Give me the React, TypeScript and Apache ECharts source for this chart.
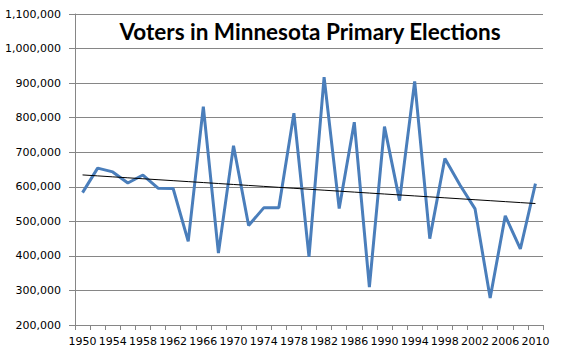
import React, { useEffect, useRef } from "react";
import * as echarts from "echarts";

const years: string[] = [
  "1950", "1952", "1954", "1956", "1958", "1960", "1962", "1964", "1966", "1968",
  "1970", "1972", "1974", "1976", "1978", "1980", "1982", "1984", "1986", "1988",
  "1990", "1992", "1994", "1996", "1998", "2000", "2002", "2004", "2006", "2008", "2010",
];

const voters: number[] = [
  583000, 654000, 643000, 611000, 634000, 596000, 595000, 442000, 832000, 408000,
  719000, 488000, 539000, 539000, 813000, 397000, 917000, 537000, 787000, 310000,
  774000, 560000, 905000, 450000, 682000, 605000, 536000, 278000, 516000, 420000, 609000,
];

const titleText = "Voters in Minnesota Primary Elections";

// Linear trendline (least squares) derived from the data
function trend(values: number[]): number[] {
  const n = values.length;
  let sx = 0, sy = 0, sxx = 0, sxy = 0;
  values.forEach((v, i) => {
    sx += i; sy += v; sxx += i * i; sxy += i * v;
  });
  const slope = (n * sxy - sx * sy) / (n * sxx - sx * sx);
  const intercept = (sy - slope * sx) / n;
  return values.map((_, i) => intercept + slope * i);
}

export default function App() {
  const ref = useRef<HTMLDivElement>(null);
  useEffect(() => {
    document.body.style.margin = "0";
    if (!ref.current) return;
    const chart = echarts.init(ref.current, undefined, { renderer: "svg" });
    const labelFont = { fontFamily: "DejaVu Sans", fontSize: 11, color: "#000" };
    chart.setOption({
      animation: false,
      backgroundColor: "#fff",
      title: {
        text: titleText,
        left: 305,
        top: 15,
        textAlign: "center",
        textStyle: { fontFamily: "Lato", fontWeight: "bold", fontSize: 22.5, color: "#000" },
      },
      grid: { left: 75, right: 19, top: 14, bottom: 34, containLabel: false },
      xAxis: {
        type: "category",
        data: years,
        boundaryGap: true,
        axisLine: { show: true, lineStyle: { color: "#868686", width: 1 } },
        axisTick: { show: true, interval: 0, length: 5, lineStyle: { color: "#868686" } },
        axisLabel: { ...labelFont, interval: 1, margin: 11 },
        splitLine: { show: false },
      },
      yAxis: {
        type: "value",
        min: 200000,
        max: 1100000,
        interval: 100000,
        axisLine: { show: true, lineStyle: { color: "#868686", width: 1 } },
        axisTick: { show: true, length: 6, lineStyle: { color: "#868686" } },
        axisLabel: {
          ...labelFont,
          margin: 14,
          formatter: (v: number) => v.toLocaleString("en-US"),
        },
        splitLine: { show: true, lineStyle: { color: "#868686", width: 1 } },
      },
      series: [
        {
          name: "Voters",
          type: "line",
          data: voters,
          symbol: "none",
          lineStyle: { color: "#4A7EBB", width: 3 },
          z: 2,
        },
        {
          name: "Trend",
          type: "line",
          data: trend(voters),
          symbol: "none",
          lineStyle: { color: "#000", width: 1 },
          z: 3,
        },
      ],
    });
    return () => chart.dispose();
  }, []);
  return <div ref={ref} style={{ width: 562, height: 359 }} />;
}
